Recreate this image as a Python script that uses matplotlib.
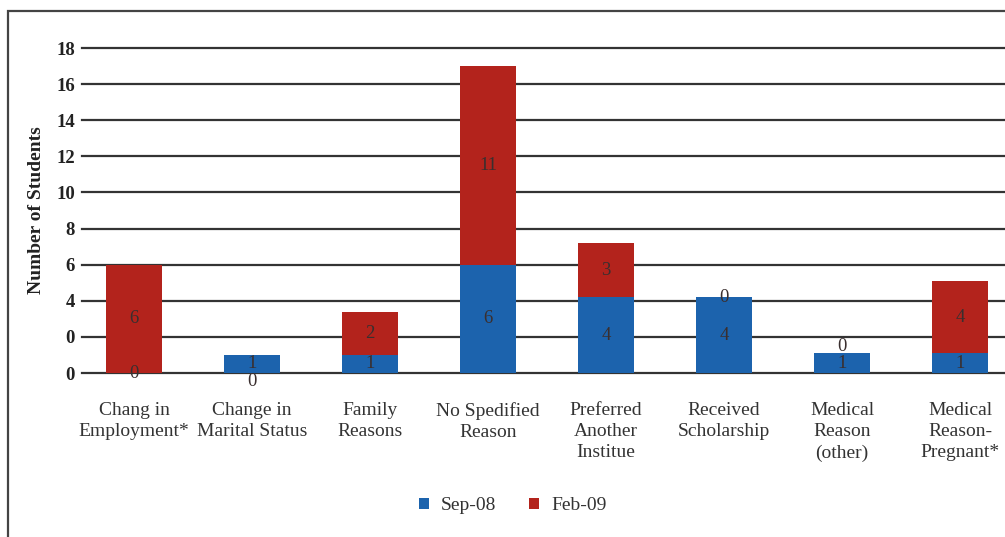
import matplotlib
matplotlib.use("Agg")
import matplotlib.pyplot as plt
import numpy as np
from matplotlib.patches import Rectangle

categories = ["Chang in\nEmployment*", "Change in\nMarital Status", "Family\nReasons",
              "No Spedified\nReason", "Preferred\nAnother\nInstitue", "Received\nScholarship",
              "Medical\nReason\n(other)", "Medical\nReason-\nPregnant*"]
sep08 = [0, 1, 1, 6, 4.2, 4.2, 1.1, 1.1]
feb09 = [6, 0, 2.4, 11, 3, 0, 0, 4]
sep_labels = ["0", "1", "1", "6", "4", "4", "1", "1"]
feb_labels = ["6", "0", "2", "11", "3", "0", "0", "4"]
yticks = [0, 2, 4, 6, 8, 10, 12, 14, 16, 18]
ytick_labels = ["0", "0", "4", "6", "8", "10", "12", "14", "16", "18"]
series_names = ["Sep-08", "Feb-09"]

BLUE = "#1c63ad"
RED = "#b3231c"
SERIF = ["Liberation Serif", "DejaVu Serif"]

fig = plt.figure(figsize=(10.05, 5.37), dpi=100)
ax = fig.add_axes([0.0816, 0.3054, 0.9184, 0.6052])

x = np.arange(len(categories))
w = 0.47
b1 = ax.bar(x, sep08, w, color=BLUE, label=series_names[0], zorder=3)
b2 = ax.bar(x, feb09, w, bottom=sep08, color=RED, label=series_names[1], zorder=3)

lab_kw = dict(label_type="center", fontsize=13.5, color="#3a2f2f", family=SERIF)
t1 = ax.bar_label(b1, labels=sep_labels, **lab_kw)
t2 = ax.bar_label(b2, labels=feb_labels, **lab_kw)
for t in list(t1) + list(t2):
    t.set_zorder(5)
    t.set_clip_on(False)
# position tweaks for zero-height labels
t2[1].set_position((0, -19))
t2[6].set_position((0, 5))

ax.set_xlim(-0.44, 7.38)
ax.set_ylim(0, 18)
ax.set_yticks(yticks)
ax.set_yticklabels(ytick_labels, family=SERIF, fontweight="bold", fontsize=13.5, color="#222222")
ax.set_xticks(x)
ax.set_xticklabels(categories, family=SERIF, fontsize=14, color="#333333", linespacing=1.32)
ax.tick_params(axis="y", length=0, pad=5)
ax.tick_params(axis="x", length=0, pad=21)
ax.yaxis.grid(True, color="#333333", linewidth=1.6, zorder=0)
for gl in ax.get_ygridlines():
    gl.set_clip_on(False)
ax.set_axisbelow(True)
for s in ax.spines.values():
    s.set_visible(False)
ax.set_ylabel("Number of Students", family=SERIF, fontweight="bold", fontsize=14,
              color="#222222", labelpad=8)

leg = fig.legend(handles=[b1, b2], labels=series_names, loc="center", bbox_to_anchor=(0.51, 0.058),
                 ncol=2, frameon=False, prop={"family": SERIF, "size": 14},
                 handlelength=0.55, handleheight=0.55, handletextpad=0.6, columnspacing=1.65)
for t in leg.get_texts():
    t.set_color("#333333")

fig.patches.append(Rectangle((0.008, -0.1), 1.2, 0.9795 + 0.1, transform=fig.transFigure,
                             fill=False, edgecolor="#444444", linewidth=1.6))

fig.savefig("out.png", dpi=100)
